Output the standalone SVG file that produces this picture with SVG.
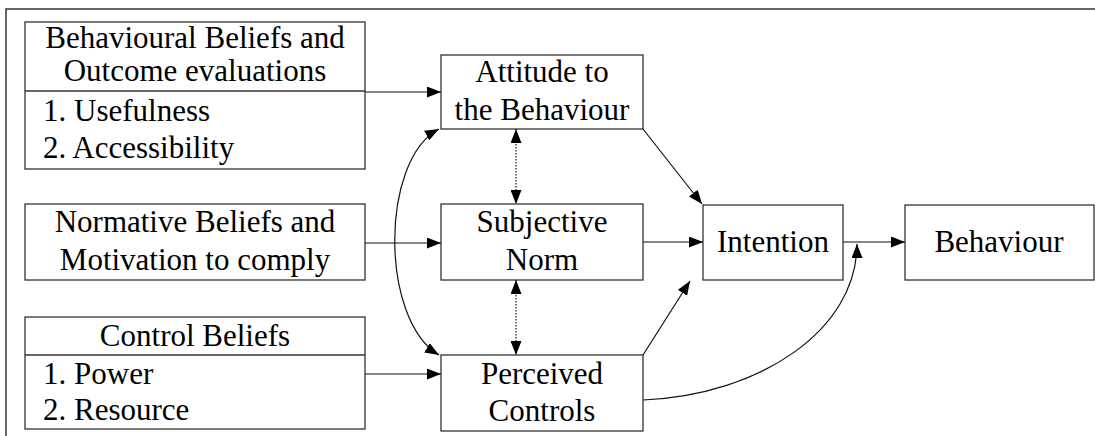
<svg xmlns="http://www.w3.org/2000/svg" width="1095" height="436" viewBox="0 0 1095 436" font-family="Liberation Serif, Times New Roman, serif">
<defs>
<style>
.box{fill:#fff;stroke:#333;stroke-width:1.3}
.t{font-family:'Liberation Serif','Times New Roman',serif;font-size:31px;fill:#000}
.c{text-anchor:middle}
.ln{fill:none;stroke:#111;stroke-width:1.2}
.dot{fill:none;stroke:#111;stroke-width:1.2;stroke-dasharray:1.5 1.5}
</style>
<marker id="ah" viewBox="0 0 14 11" refX="14" refY="5.5" markerWidth="14" markerHeight="11" markerUnits="userSpaceOnUse" orient="auto-start-reverse">
<path d="M0,0 L14,5.5 L0,11 Z" fill="#000"/>
</marker>
</defs>
<rect width="1095" height="436" fill="#fff"/>
<path d="M6,436 V9 H1095" fill="none" stroke="#333" stroke-width="1.5"/>

<g id="behavioural-beliefs">
<rect class="box" x="25" y="22" width="340" height="147"/>
<line x1="25" y1="91" x2="365" y2="91" stroke="#333" stroke-width="1.3"/>
<text class="t c" x="195" y="48">Behavioural Beliefs and</text>
<text class="t c" x="195" y="81">Outcome evaluations</text>
<text class="t" x="43" y="121">1. Usefulness</text>
<text class="t" x="43" y="158">2. Accessibility</text>
</g>
<g id="normative-beliefs">
<rect class="box" x="25" y="204" width="340" height="76"/>
<text class="t c" x="195" y="232">Normative Beliefs and</text>
<text class="t c" x="195" y="270">Motivation to comply</text>
</g>
<g id="control-beliefs">
<rect class="box" x="25" y="317" width="340" height="112"/>
<line x1="25" y1="355" x2="365" y2="355" stroke="#333" stroke-width="1.3"/>
<text class="t c" x="195" y="346">Control Beliefs</text>
<text class="t" x="43" y="384">1. Power</text>
<text class="t" x="43" y="420">2. Resource</text>
</g>
<g id="attitude">
<rect class="box" x="441" y="55" width="202" height="74"/>
<text class="t c" x="542" y="82">Attitude to</text>
<text class="t c" x="542" y="120">the Behaviour</text>
</g>
<g id="subjective-norm">
<rect class="box" x="441" y="204" width="202" height="76"/>
<text class="t c" x="542" y="232">Subjective</text>
<text class="t c" x="542" y="270">Norm</text>
</g>
<g id="perceived-controls">
<rect class="box" x="441" y="355" width="202" height="76"/>
<text class="t c" x="542" y="384">Perceived</text>
<text class="t c" x="542" y="421">Controls</text>
</g>
<g id="intention">
<rect class="box" x="703" y="205" width="140" height="75"/>
<text class="t c" x="773" y="252">Intention</text>
</g>
<g id="behaviour">
<rect class="box" x="905" y="205" width="189" height="75"/>
<text class="t c" x="999" y="252">Behaviour</text>
</g>

<g id="connectors">
<line class="ln" x1="365" y1="92" x2="441" y2="92" marker-end="url(#ah)"/>
<line class="ln" x1="365" y1="243" x2="441" y2="243" marker-end="url(#ah)"/>
<line class="ln" x1="365" y1="374" x2="441" y2="374" marker-end="url(#ah)"/>
<line class="dot" x1="516" y1="129" x2="516" y2="204" marker-start="url(#ah)" marker-end="url(#ah)"/>
<line class="dot" x1="516" y1="280" x2="516" y2="355" marker-start="url(#ah)" marker-end="url(#ah)"/>
<path class="ln" d="M439,129 C380,160 380,320 439,355" marker-start="url(#ah)" marker-end="url(#ah)"/>
<line class="ln" x1="643" y1="129" x2="702" y2="204" marker-end="url(#ah)"/>
<line class="ln" x1="643" y1="242" x2="703" y2="242" marker-end="url(#ah)"/>
<line class="ln" x1="643" y1="355" x2="690" y2="281" marker-end="url(#ah)"/>
<path class="ln" d="M643,400 C760,395 857,330 857,244" marker-end="url(#ah)"/>
<line class="ln" x1="843" y1="242" x2="905" y2="242" marker-end="url(#ah)"/>
</g>
</svg>
